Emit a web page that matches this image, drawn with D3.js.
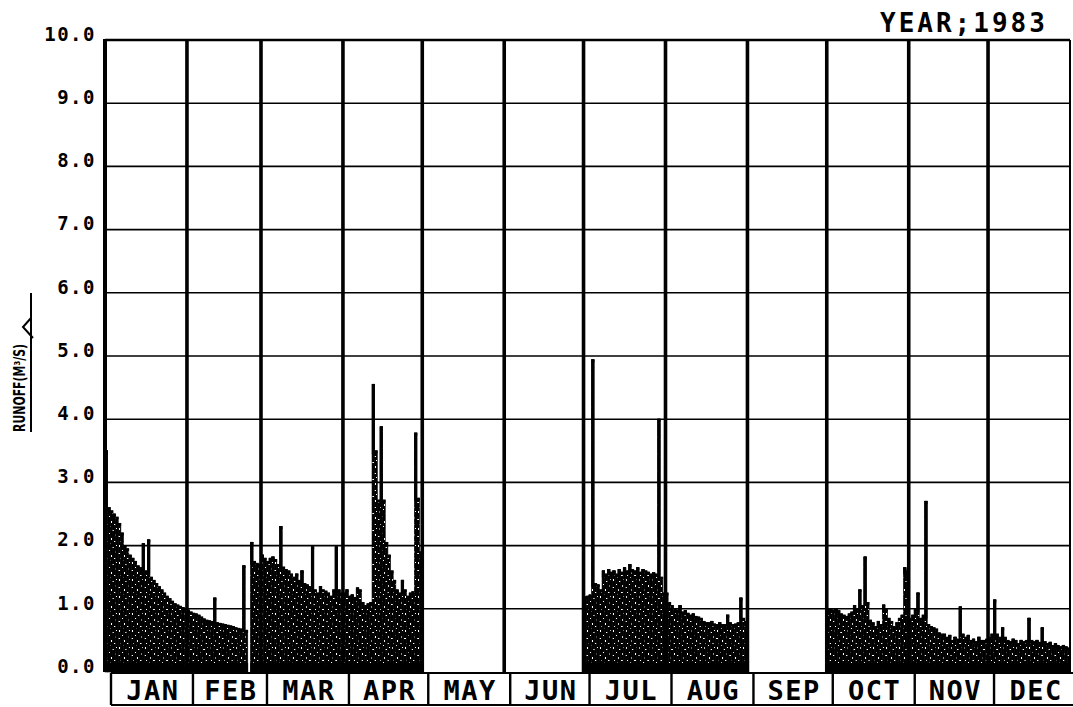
<!DOCTYPE html>
<html>
<head>
<meta charset="utf-8">
<script src="https://cdn.jsdelivr.net/npm/d3@7/dist/d3.min.js"></script>
<style>
  html, body { margin: 0; padding: 0; background: #fff; }
  svg { display: block; }
</style>
</head>
<body>
<svg id="chart" width="1073" height="707"></svg>
<script>
// ---------------- DATA ----------------
const months = ["JAN","FEB","MAR","APR","MAY","JUN","JUL","AUG","SEP","OCT","NOV","DEC"];
const daysInMonth = [31,28,31,30,31,30,31,31,30,31,30,31];
const yTicks = [0,1,2,3,4,5,6,7,8,9,10];
const yearLabel = "YEAR;1983";
const yTitle = "RUNOFF(M³/S)";

// daily runoff (m3/s); empty month = no record; null = missing day
const runoffJan = [3.5,2.6,2.55,2.5,2.45,2.35,2.2,2.0,1.95,1.85,1.8,1.75,1.68,1.65,2.03,1.6,2.09,1.5,1.45,1.4,1.35,1.3,1.25,1.2,1.16,1.12,1.08,1.06,1.04,1.02,1.0];
const runoffFeb = [0.98,0.95,0.93,0.92,0.9,0.87,0.84,0.82,0.81,0.8,1.17,0.78,0.77,0.76,0.75,0.74,0.73,0.72,0.7,0.69,0.68,1.68,0.66,null,2.05,1.75,1.72,1.7];
const runoffMar = [1.85,1.8,1.75,1.8,1.82,1.78,1.7,2.3,1.66,1.62,1.6,1.55,1.5,1.55,1.45,1.6,1.4,1.38,1.35,1.98,1.3,1.25,1.35,1.3,1.28,1.25,1.2,1.3,1.98,1.3,1.25];
const runoffApr = [1.25,1.3,1.2,1.22,1.18,1.33,1.3,1.1,1.05,1.08,1.1,4.55,3.5,2.72,3.88,2.72,2.05,1.85,1.6,1.45,1.3,1.25,1.45,1.3,1.2,1.25,1.27,3.78,2.75,1.9];
const runoffMay = [];
const runoffJun = [];
const runoffJul = [1.19,1.2,1.22,4.94,1.4,1.38,1.3,1.6,1.55,1.62,1.58,1.6,1.55,1.62,1.58,1.65,1.6,1.7,1.62,1.6,1.65,1.58,1.62,1.6,1.58,1.55,1.57,1.55,4.0,1.5,1.25];
const runoffAug = [1.25,1.1,1.05,1.0,0.98,1.05,0.95,0.97,0.93,0.9,0.92,0.88,0.87,0.85,0.8,0.78,0.78,0.8,0.76,0.75,0.78,0.75,0.75,0.9,0.78,0.75,0.76,0.78,1.17,0.85,0.8];
const runoffSep = [];
const runoffOct = [1.0,1.0,0.98,1.0,0.97,0.92,0.9,0.88,0.92,0.95,1.05,1.0,1.3,1.05,1.82,1.1,0.82,0.78,0.72,0.8,0.75,1.06,1.0,0.85,0.8,0.72,0.78,0.85,0.9,1.65,1.6];
const runoffNov = [0.85,0.9,1.0,1.25,0.85,0.9,2.7,0.75,0.72,0.7,0.68,0.62,0.6,0.6,0.55,0.58,0.5,0.55,0.52,1.03,0.6,0.55,0.58,0.5,0.52,0.48,0.55,0.5,0.5,0.52];
const runoffDec = [0.55,0.6,1.14,0.6,0.55,0.7,0.55,0.5,0.48,0.52,0.5,0.45,0.5,0.48,0.5,0.85,0.5,0.48,0.5,0.47,0.7,0.48,0.45,0.47,0.42,0.45,0.42,0.4,0.42,0.4,0.38];

const monthly = [runoffJan,runoffFeb,runoffMar,runoffApr,runoffMay,runoffJun,
                 runoffJul,runoffAug,runoffSep,runoffOct,runoffNov,runoffDec];

// ---------------- BUILD ----------------
const monthStart = [];
let acc = 0;
daysInMonth.forEach(n => { monthStart.push(acc); acc += n; });
const totalDays = acc;

const byDay = new Map();
monthly.forEach((arr, m) => {
  arr.forEach((v, d) => {
    if (v !== null && v !== undefined) byDay.set(monthStart[m] + d, v);
  });
});
const daily = Array.from(byDay, ([day, value]) => {
  const prev = byDay.has(day - 1) ? byDay.get(day - 1) : 0;
  const next = byDay.has(day + 1) ? byDay.get(day + 1) : 0;
  return { day, value, shoulder: Math.max(prev, next) };
});

const svg = d3.select("#chart");
const x = d3.scaleLinear().domain([0, totalDays]).range([105, 1070]);
const y = d3.scaleLinear().domain([0, 10]).range([672, 40]);

// speckle texture for the hatched bars
const defs = svg.append("defs");
const pat = defs.append("pattern").attr("id", "speck")
  .attr("patternUnits", "userSpaceOnUse").attr("width", 13).attr("height", 17);
pat.append("rect").attr("width", 13).attr("height", 17).attr("fill", "#000");
[[2,1,1,2],[8,3,2,1],[5,6,1,1],[11,7,1,2],[1,9,2,1],[7,11,1,2],[3,14,1,1],[10,14,2,1],[12,1,1,1],[6,16,1,1]].forEach(r => {
  pat.append("rect").attr("x", r[0]).attr("y", r[1]).attr("width", r[2]).attr("height", r[3]).attr("fill", "#fff");
});

// gridlines
svg.append("g").selectAll("line").data(yTicks.filter(t => t > 0 && t < 10)).join("line")
  .attr("x1", x(0)).attr("x2", x(totalDays))
  .attr("y1", d => y(d)).attr("y2", d => y(d))
  .attr("stroke", "#000").attr("stroke-width", 1.6);
svg.append("line").attr("x1", x(0)).attr("x2", x(totalDays))
  .attr("y1", y(10)).attr("y2", y(10)).attr("stroke", "#000").attr("stroke-width", 2.4);

// bars
const bw = x(1) - x(0);
svg.append("g").selectAll("rect").data(daily).join("rect")
  .attr("x", d => x(d.day))
  .attr("width", bw)
  .attr("y", d => y(d.value))
  .attr("height", d => y(0) - y(d.value))
  .attr("fill", "url(#speck)")
  .attr("stroke", "#000")
  .attr("stroke-width", 0.6);
// isolated peaks drawn solid (part standing above neighbouring days)
svg.append("g").selectAll("rect").data(daily.filter(d => d.value > d.shoulder)).join("rect")
  .attr("x", d => x(d.day) - 0.2)
  .attr("width", bw + 0.4)
  .attr("y", d => y(d.value) - 0.5)
  .attr("height", d => y(d.shoulder) - y(d.value) + 4)
  .attr("fill", "#000");
// solid top caps
svg.append("g").selectAll("rect").data(daily).join("rect")
  .attr("x", d => x(d.day))
  .attr("width", bw + 0.3)
  .attr("y", d => y(d.value) - 0.5)
  .attr("height", 3)
  .attr("fill", "#000");
// solid base band
svg.append("g").selectAll("rect").data(daily).join("rect")
  .attr("x", d => x(d.day))
  .attr("width", bw + 0.35)
  .attr("y", d => y(Math.min(d.value, 0.14)))
  .attr("height", d => y(0) - y(Math.min(d.value, 0.14)))
  .attr("fill", "#000");

// month separators
svg.append("g").selectAll("line").data(monthStart.slice(1)).join("line")
  .attr("x1", d => x(d)).attr("x2", d => x(d))
  .attr("y1", y(10)).attr("y2", y(0))
  .attr("stroke", "#000").attr("stroke-width", 3.6);
svg.append("line").attr("x1", x(0)).attr("x2", x(0)).attr("y1", y(10) - 1).attr("y2", y(0))
  .attr("stroke", "#000").attr("stroke-width", 4);
svg.append("line").attr("x1", x(totalDays)).attr("x2", x(totalDays)).attr("y1", y(10)).attr("y2", y(0))
  .attr("stroke", "#000").attr("stroke-width", 2);

// y tick labels
const yAxis = d3.axisLeft(y).tickValues(yTicks).tickFormat(d3.format(".1f")).tickSize(0).tickPadding(0);
const ga = svg.append("g").attr("transform", "translate(96,0)").call(yAxis);
ga.select(".domain").remove();
ga.selectAll("text")
  .attr("dy", "0.02em")
  .attr("font-family", "'DejaVu Sans Mono', monospace")
  .attr("font-weight", "bold")
  .attr("font-size", 19)
  .attr("letter-spacing", 1.5)
  .attr("fill", "#000");

// month label boxes
const boxOff = 6;
const boxTop = 673, boxBot = 705;
svg.append("line").attr("x1", x(0) + boxOff).attr("x2", 1073)
  .attr("y1", boxTop).attr("y2", boxTop).attr("stroke", "#000").attr("stroke-width", 2);
svg.append("line").attr("x1", x(0) + boxOff).attr("x2", 1073)
  .attr("y1", boxBot).attr("y2", boxBot).attr("stroke", "#000").attr("stroke-width", 2);
svg.append("g").selectAll("line").data(monthStart).join("line")
  .attr("x1", d => x(d) + boxOff).attr("x2", d => x(d) + boxOff)
  .attr("y1", boxTop).attr("y2", boxBot)
  .attr("stroke", "#000").attr("stroke-width", 2.4);
svg.append("g").selectAll("text").data(months).join("text")
  .attr("x", (d, i) => (x(monthStart[i]) + x(monthStart[i] + daysInMonth[i])) / 2 + boxOff + 1)
  .attr("y", 700)
  .attr("text-anchor", "middle")
  .attr("font-family", "'DejaVu Sans Mono', monospace")
  .attr("font-weight", "bold")
  .attr("font-size", 27)
  .attr("letter-spacing", 1.5)
  .attr("fill", "#000")
  .text(d => d);

// year label
svg.append("text").attr("x", 880).attr("y", 32)
  .attr("font-family", "'DejaVu Sans Mono', monospace")
  .attr("font-weight", "bold").attr("font-size", 26).attr("letter-spacing", 3)
  .attr("fill", "#000").text(yearLabel);

// y axis title with arrow
svg.append("text")
  .attr("transform", "translate(25,388) rotate(-90)")
  .attr("text-anchor", "middle")
  .attr("font-family", "'DejaVu Sans', sans-serif")
  .attr("font-weight", "bold").attr("font-size", 16)
  .attr("textLength", 88).attr("lengthAdjust", "spacingAndGlyphs")
  .attr("fill", "#000").text(yTitle);
svg.append("line").attr("x1", 31).attr("x2", 31).attr("y1", 432).attr("y2", 293)
  .attr("stroke", "#000").attr("stroke-width", 2);
svg.append("path").attr("d", "M31,318 L23,327 L33,338")
  .attr("fill", "none").attr("stroke", "#000").attr("stroke-width", 2);
</script>
</body>
</html>
